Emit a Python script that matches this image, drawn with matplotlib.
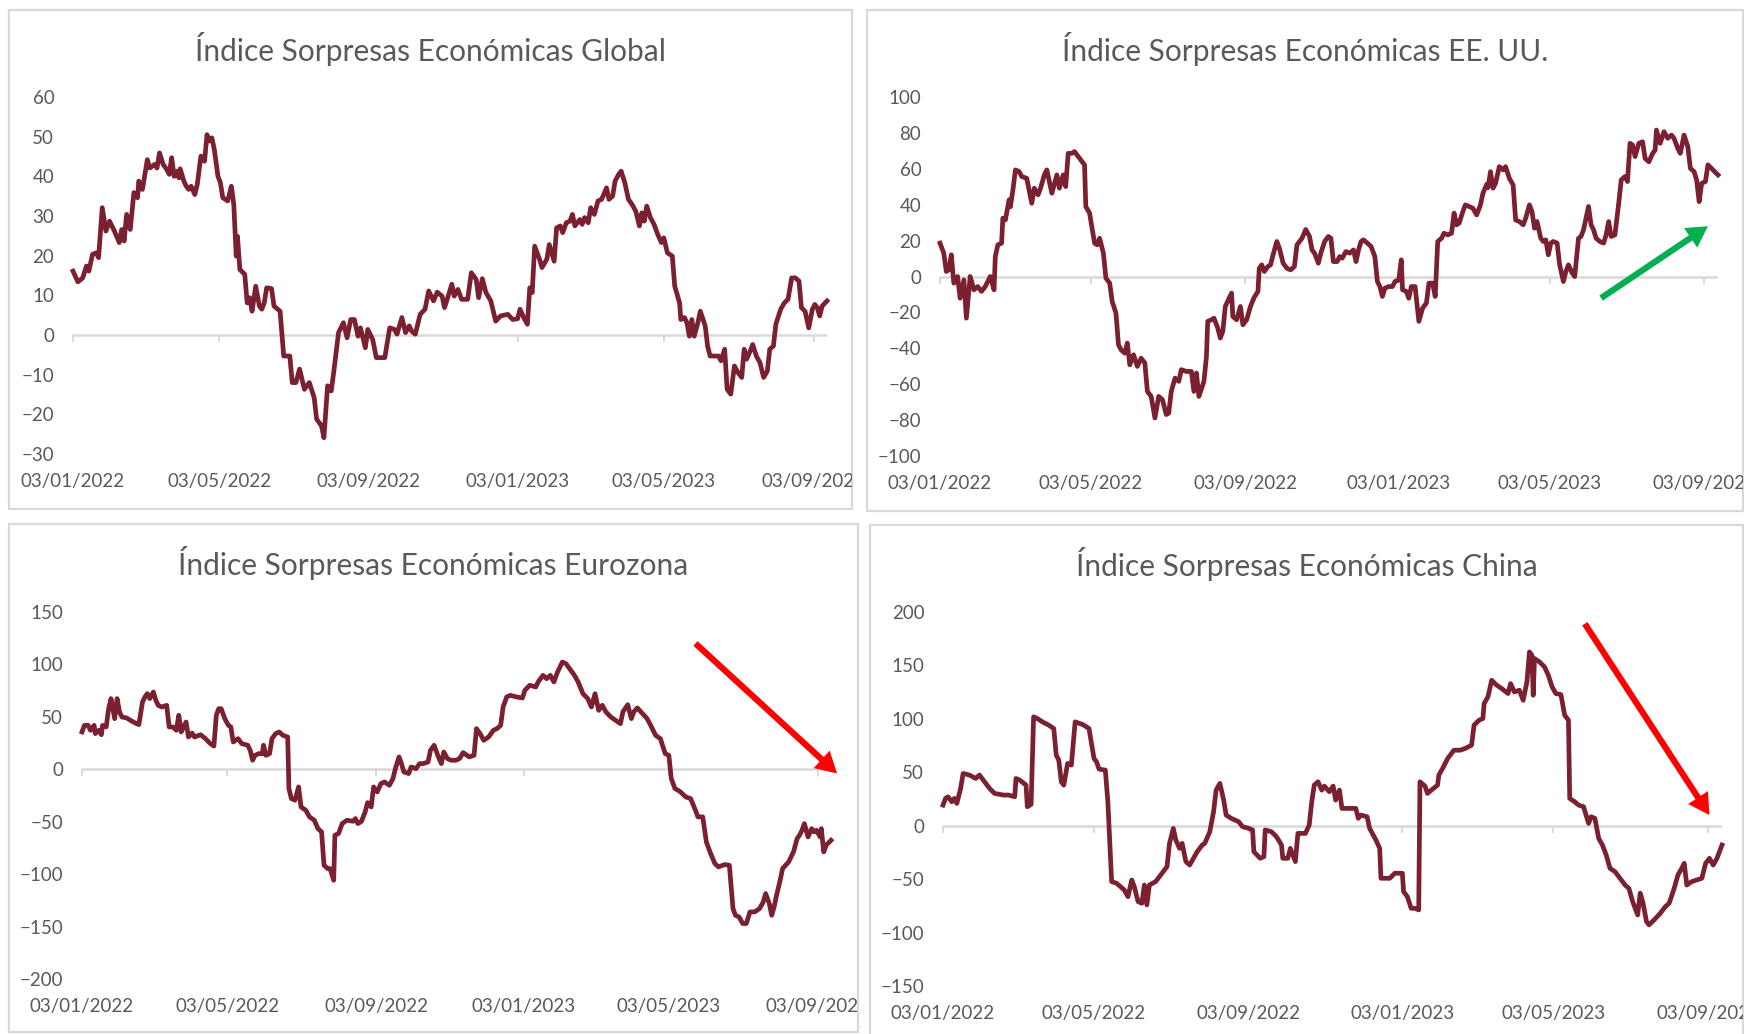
import numpy as np
import pandas as pd
import matplotlib
matplotlib.use("Agg")
import matplotlib.pyplot as plt
import matplotlib.dates as mdates
from matplotlib.patches import Rectangle
from matplotlib.transforms import Bbox, TransformedBbox

plt.rcParams["font.family"] = ["Lato", "DejaVu Sans"]

# ---------------------------------------------------------------- data
START = pd.Timestamp("2022-01-03")   # day 0 of every series

tick_dates = ["2022-01-03", "2022-05-03", "2022-09-03",
              "2023-01-03", "2023-05-03", "2023-09-03"]

titles = ["Índice Sorpresas Económicas Global",
          "Índice Sorpresas Económicas EE. UU.",
          "Índice Sorpresas Económicas Eurozona",
          "Índice Sorpresas Económicas China"]

# Global: days after START, index value
global_day = [0, 4, 8, 11, 13, 16, 19, 21, 24, 27, 30, 34, 38, 40, 42, 44, 47, 50, 53, 54,
              57, 61, 63, 67, 69, 71, 74, 77, 79, 81, 83, 85, 87, 88, 91, 93, 95, 97, 100, 102,
              105, 108, 110, 112, 114, 116, 119, 121, 123, 127, 130, 132, 134, 135, 137, 141, 143, 145, 147, 150,
              153, 155, 157, 159, 163, 165, 170, 173, 178, 180, 183, 186, 190, 194, 198, 200, 204, 206, 209, 212,
              214, 218, 222, 225, 228, 231, 234, 236, 240, 242, 246, 249, 256, 260, 264, 266, 270, 273, 276, 278,
              281, 285, 289, 292, 296, 299, 303, 305, 308, 311, 313, 316, 319, 324, 327, 331, 333, 336, 339, 343,
              347, 351, 357, 361, 365, 367, 370, 373, 375, 377, 379, 383, 385, 389, 391, 395, 397, 400, 402, 405,
              408, 410, 412, 416, 418, 420, 423, 425, 428, 431, 434, 438, 440, 443, 445, 448, 450, 453, 456, 459,
              462, 465, 467, 469, 471, 474, 477, 480, 483, 485, 488, 492, 494, 498, 499, 502, 504, 506, 508, 510,
              513, 515, 519, 521, 523, 530, 532, 535, 537, 540, 543, 546, 549, 551, 553, 556, 558, 561, 564, 567,
              570, 572, 575, 577, 581, 584, 587, 590, 593, 596, 598, 601, 604, 607, 609, 611, 613, 615, 619]
global_val = [16.1, 13.4, 14.4, 17.4, 16.1, 20.3, 20.7, 19.5, 32.1, 26.2, 28.7, 26.2, 23.3, 26.6, 23.7, 30.4, 26.6, 35.9, 34.6, 38.8,
              36.7, 44.2, 42.1, 43.0, 42.1, 45.9, 43.0, 41.7, 40.5, 44.7, 40.0, 41.3, 39.6, 41.9, 38.8, 37.5, 36.7, 37.5, 35.4, 37.9,
              45.1, 43.8, 50.5, 48.9, 49.7, 46.8, 40.0, 38.4, 34.6, 33.8, 37.5, 32.9, 19.9, 24.9, 16.5, 15.3, 8.1, 9.4, 6.0, 12.3,
              7.3, 6.5, 8.1, 11.9, 11.7, 7.3, 6.0, -5.3, -5.3, -12.0, -12.0, -8.6, -13.7, -12.0, -15.8, -21.2, -22.9, -25.9, -12.8, -14.1,
              -9.5, 0.6, 3.1, -0.7, 3.9, 3.9, -0.3, 1.8, -3.2, 1.4, -1.1, -5.7, -5.7, 1.8, 1.4, 0.2, 4.4, 0.6, 2.3, 1.0,
              0.2, 5.2, 6.5, 11.1, 8.6, 10.8, 9.8, 6.9, 9.8, 12.8, 9.8, 11.5, 9.0, 9.0, 15.7, 14.0, 9.4, 14.2, 10.7, 8.6,
              3.5, 4.8, 5.2, 3.9, 4.1, 6.5, 4.4, 2.7, 11.9, 10.7, 22.4, 19.1, 17.0, 19.1, 22.8, 18.6, 27.0, 27.5, 25.8, 28.3,
              28.7, 30.4, 27.5, 29.1, 27.9, 29.6, 28.3, 32.1, 30.4, 33.8, 34.2, 37.1, 34.2, 35.0, 38.8, 40.5, 41.3, 38.4, 34.2, 32.9,
              31.2, 27.5, 30.8, 28.7, 32.5, 29.6, 27.9, 25.4, 23.3, 24.5, 20.7, 19.9, 12.3, 8.1, 3.9, 4.4, 3.1, -0.3, 3.9, -0.3,
              3.1, 6.0, 2.3, -2.8, -5.3, -5.3, -6.5, -3.6, -13.7, -14.9, -7.8, -9.5, -10.7, -3.6, -6.1, -4.0, -2.4, -5.3, -7.0, -10.7,
              -9.1, -3.6, -2.8, 2.7, 6.5, 8.1, 9.0, 14.4, 14.4, 13.6, 6.9, 6.0, 1.8, 6.5, 7.7, 6.9, 4.8, 7.3, 8.6]

# EE. UU.
us_day = [0, 3, 5, 7, 9, 11, 14, 16, 19, 21, 24, 27, 30, 33, 36, 40, 43, 44, 46, 49,
          50, 52, 55, 56, 58, 60, 63, 65, 69, 73, 75, 78, 80, 83, 85, 89, 93, 95, 98, 100,
          102, 105, 107, 110, 112, 115, 116, 119, 121, 123, 125, 127, 130, 132, 135, 137, 140, 142, 144, 147,
          149, 151, 154, 157, 160, 163, 165, 168, 171, 174, 177, 180, 182, 184, 187, 190, 192, 196, 200, 202,
          204, 206, 210, 212, 213, 216, 218, 221, 223, 225, 227, 230, 232, 233, 236, 239, 241, 244, 247, 250,
          253, 254, 256, 258, 261, 263, 265, 268, 270, 273, 276, 279, 282, 284, 288, 291, 294, 296, 298, 301,
          303, 306, 309, 311, 313, 316, 318, 320, 323, 326, 329, 331, 333, 335, 337, 340, 343, 346, 348, 350,
          352, 354, 357, 360, 362, 365, 367, 368, 371, 373, 375, 378, 381, 384, 387, 389, 392, 394, 396, 399,
          401, 404, 407, 409, 411, 413, 416, 418, 421, 424, 427, 430, 432, 435, 436, 438, 440, 442, 445, 448,
          450, 453, 456, 458, 461, 464, 466, 469, 471, 473, 475, 478, 480, 482, 484, 486, 488, 491, 493, 496,
          498, 500, 503, 505, 508, 510, 512, 516, 518, 520, 522, 525, 528, 530, 532, 534, 537, 540, 542, 545,
          547, 549, 551, 553, 556, 559, 561, 564, 567, 569, 570, 573, 576, 579, 582, 584, 587, 589, 592, 595,
          597, 600, 602, 604, 606, 609, 611, 615, 619]
us_val = [18.6, 13.0, 2.8, 3.7, 12.1, -3.7, 0.0, -12.1, -1.9, -23.2, 0.0, -7.4, -5.6, -8.3, -5.6, 0.0, -7.4, 11.1, 17.6, 18.6,
          32.5, 31.5, 42.7, 38.8, 48.2, 59.4, 58.4, 55.7, 54.7, 40.8, 49.2, 45.5, 49.2, 56.6, 59.4, 46.4, 56.6, 49.2, 56.6, 50.1,
          68.6, 68.6, 69.6, 66.8, 64.9, 62.2, 39.0, 35.3, 26.9, 18.6, 17.6, 21.3, 13.0, -0.9, -3.7, -13.9, -20.4, -38.0, -40.8, -42.7,
          -37.1, -49.2, -43.6, -50.1, -45.5, -48.2, -64.0, -66.8, -78.8, -66.8, -68.6, -76.9, -76.1, -64.0, -56.6, -58.4, -51.9, -52.9, -52.9, -64.0,
          -53.8, -66.8, -58.4, -44.5, -25.0, -24.1, -23.2, -28.8, -34.3, -30.6, -16.7, -12.1, -9.3, -22.3, -24.1, -16.7, -26.9, -24.1, -16.7, -11.6,
          -8.3, 4.6, 6.5, 2.8, 5.6, 6.5, 12.1, 19.5, 15.8, 7.4, 4.6, 3.7, 5.6, 17.6, 21.3, 26.2, 22.3, 14.8, 13.0, 7.4,
          13.0, 19.5, 22.3, 21.3, 8.3, 8.3, 11.1, 10.2, 13.9, 13.0, 14.8, 8.3, 14.8, 19.5, 20.4, 18.6, 16.7, 11.1, -2.8, -5.6,
          -11.1, -6.5, -5.6, -5.6, -2.8, -1.9, 9.3, -7.4, -8.3, -12.1, -5.6, -5.6, -25.0, -17.6, -14.8, -3.7, -3.7, -11.1, 19.5, 21.3,
          24.1, 23.2, 24.1, 35.3, 28.8, 29.7, 36.2, 39.9, 39.0, 38.0, 34.3, 39.9, 46.4, 51.4, 49.5, 58.4, 49.2, 51.9, 61.2, 59.4,
          61.2, 54.7, 51.0, 31.5, 30.6, 28.8, 32.5, 39.9, 36.2, 26.9, 30.6, 21.3, 19.5, 20.4, 12.1, 18.6, 19.5, 18.6, 6.5, -2.8,
          2.8, 6.5, 1.9, 0.0, 21.3, 22.3, 26.0, 39.0, 28.8, 26.0, 21.3, 19.5, 18.6, 23.2, 30.6, 22.3, 23.2, 40.8, 53.8, 55.7,
          52.9, 74.2, 73.3, 66.8, 74.2, 75.1, 65.8, 63.9, 68.6, 70.4, 81.6, 74.2, 80.7, 77.0, 78.8, 77.0, 71.4, 68.6, 78.8, 72.3,
          60.3, 58.4, 53.8, 41.7, 51.9, 52.9, 62.2, 59.4, 56.6]

# Eurozona
euro_day = [0, 2, 5, 7, 10, 11, 14, 16, 17, 20, 22, 24, 27, 29, 31, 33, 37, 40, 45, 47,
            50, 52, 54, 56, 59, 61, 63, 66, 70, 72, 75, 78, 80, 82, 86, 88, 91, 93, 98, 102,
            106, 109, 111, 113, 115, 118, 121, 123, 125, 129, 132, 137, 139, 141, 143, 146, 149, 150, 152, 155,
            157, 160, 163, 166, 170, 171, 173, 176, 179, 181, 185, 188, 192, 195, 198, 200, 203, 205, 208, 209,
            212, 215, 219, 224, 226, 228, 231, 234, 236, 239, 241, 244, 247, 250, 254, 257, 259, 262, 264, 266,
            270, 272, 276, 279, 282, 286, 288, 291, 294, 297, 299, 302, 305, 309, 312, 315, 320, 324, 326, 329,
            332, 336, 340, 343, 346, 348, 351, 354, 359, 364, 366, 370, 375, 377, 381, 384, 387, 390, 393, 397,
            400, 404, 407, 410, 414, 418, 421, 424, 427, 430, 433, 437, 441, 445, 447, 451, 454, 456, 459, 462,
            467, 470, 474, 478, 482, 485, 487, 490, 494, 499, 503, 507, 509, 513, 516, 519, 523, 526, 531, 535,
            538, 540, 543, 546, 549, 552, 556, 560, 563, 565, 568, 570, 572, 574, 577, 579, 584, 588, 591, 593,
            595, 597, 600, 603, 605, 607, 610, 611, 613, 615, 619]
euro_val = [35.6, 41.9, 41.9, 37.2, 41.9, 34.0, 37.2, 33.0, 41.9, 40.4, 57.8, 67.4, 48.3, 67.4, 54.7, 49.9, 48.9, 46.7, 43.5, 42.6,
            64.2, 69.0, 72.1, 67.4, 73.7, 65.8, 61.0, 59.4, 61.0, 40.4, 40.4, 37.2, 51.5, 35.6, 45.1, 30.8, 34.6, 30.8, 33.0, 29.2,
            24.5, 22.2, 51.5, 57.8, 57.8, 48.3, 41.9, 40.4, 26.1, 29.2, 24.5, 22.9, 18.1, 8.6, 13.3, 14.9, 14.9, 22.9, 13.3, 14.9,
            29.2, 34.0, 35.6, 32.4, 30.8, -18.4, -27.9, -29.6, -16.8, -35.9, -39.1, -45.4, -48.6, -56.6, -59.7, -91.5, -94.7, -94.7, -105.8, -62.9,
            -61.3, -51.8, -48.6, -49.6, -47.0, -51.8, -49.6, -40.7, -31.8, -35.9, -16.8, -21.6, -13.7, -12.1, -15.3, -8.9, 0.6, 11.8, 5.4, -2.5,
            -4.1, 2.2, 0.6, 5.4, 5.4, 7.0, 18.1, 22.9, 13.3, 5.4, 16.5, 10.2, 8.6, 8.6, 10.2, 15.9, 11.8, 13.3, 38.8, 34.0,
            27.6, 30.8, 37.2, 38.8, 41.9, 59.4, 69.0, 70.5, 69.0, 68.0, 75.3, 80.1, 78.5, 83.3, 89.6, 86.4, 89.6, 83.3, 92.8, 102.3,
            100.7, 94.4, 89.6, 83.3, 72.1, 67.4, 59.4, 72.1, 56.2, 61.0, 54.7, 49.9, 46.7, 43.5, 54.7, 61.6, 48.3, 54.7, 58.5, 54.7,
            48.3, 41.9, 32.4, 29.2, 14.9, 13.3, -8.9, -18.4, -21.0, -26.4, -28.0, -39.1, -45.4, -45.4, -69.3, -78.8, -89.9, -93.1, -90.9, -91.5,
            -132.8, -139.2, -140.8, -147.1, -147.1, -136.0, -136.0, -132.8, -126.5, -118.5, -128.1, -139.2, -131.2, -120.1, -105.8, -94.7, -88.3, -78.8, -66.1, -62.9,
            -58.2, -51.8, -64.5, -56.6, -59.7, -58.2, -64.5, -56.6, -78.8, -72.4, -67.7]

# China
china_day = [0, 2, 4, 7, 9, 11, 14, 16, 21, 26, 29, 32, 37, 41, 48, 52, 57, 58, 61, 66,
             67, 70, 72, 75, 79, 84, 88, 90, 92, 94, 96, 99, 102, 105, 111, 116, 120, 122, 124, 129,
             131, 134, 138, 141, 144, 147, 150, 152, 155, 158, 160, 162, 164, 169, 173, 178, 180, 183, 185, 188,
             190, 193, 196, 199, 202, 206, 208, 212, 215, 217, 220, 223, 225, 229, 235, 238, 243, 246, 247, 252,
             255, 256, 261, 265, 269, 270, 274, 276, 280, 282, 288, 291, 293, 295, 298, 301, 303, 307, 310, 312,
             315, 317, 320, 328, 330, 332, 337, 339, 344, 347, 348, 355, 359, 365, 366, 369, 372, 375, 378, 379,
             383, 385, 388, 393, 394, 397, 401, 404, 406, 411, 415, 420, 422, 426, 429, 430, 433, 436, 440, 444,
             449, 451, 454, 458, 461, 464, 466, 468, 469, 470, 474, 478, 481, 484, 487, 491, 494, 497, 498, 502,
             505, 509, 513, 515, 518, 521, 524, 527, 530, 534, 539, 542, 545, 548, 552, 554, 556, 559, 561, 565,
             570, 574, 577, 581, 584, 587, 589, 591, 595, 599, 603, 606, 609, 612, 615, 619]
china_val = [19.3, 25.5, 27.1, 22.4, 25.5, 20.9, 34.9, 48.9, 47.4, 44.2, 47.4, 42.7, 34.9, 30.2, 28.7, 28.7, 27.1, 44.2, 42.7, 38.0,
             17.8, 19.9, 101.9, 100.3, 97.2, 94.1, 91.0, 66.0, 61.4, 41.1, 38.0, 58.3, 56.7, 97.2, 94.7, 91.0, 62.9, 59.8, 53.0, 52.0,
             22.4, -52.3, -53.9, -57.0, -60.1, -66.4, -50.8, -57.0, -71.0, -72.6, -55.5, -74.1, -55.5, -52.3, -46.1, -38.3, -16.5, -2.5, -13.4, -21.2,
             -16.5, -33.6, -36.8, -30.5, -24.3, -18.1, -16.5, -5.6, 13.1, 33.3, 39.6, 24.0, 10.0, 6.9, 3.7, -0.9, -2.5, -4.0, -24.3, -30.5,
             -29.0, -4.0, -5.6, -10.3, -18.1, -30.5, -30.5, -21.2, -33.6, -7.2, -7.2, 0.6, 22.4, 38.0, 41.1, 33.3, 37.1, 31.8, 37.1, 24.0,
             33.3, 16.2, 16.2, 16.2, 6.9, 10.0, 8.4, -2.5, -13.4, -21.2, -49.2, -49.2, -44.5, -44.5, -61.7, -66.4, -77.3, -77.3, -78.8, 41.1,
             37.1, 30.2, 33.3, 38.0, 47.4, 53.6, 62.9, 67.6, 70.7, 70.7, 72.3, 75.4, 94.1, 98.8, 100.3, 114.3, 120.6, 136.1, 131.5, 128.3,
             123.7, 133.0, 125.2, 126.8, 117.4, 134.6, 162.6, 159.5, 122.1, 156.4, 153.3, 148.6, 140.8, 129.9, 123.7, 122.7, 103.4, 98.8, 25.5, 22.4,
             19.3, 17.8, 2.2, 8.4, 6.9, -11.8, -18.1, -27.4, -39.9, -43.0, -50.8, -55.5, -58.6, -71.0, -83.5, -63.2, -71.0, -89.7, -92.8, -88.2,
             -81.9, -75.7, -72.6, -58.6, -46.1, -39.9, -35.2, -55.5, -52.3, -50.8, -49.2, -35.2, -30.5, -36.8, -30.5, -18.1]

# Trend arrows: (day, value) of tail and head
us_arrow = [(526, -12.0), (611, 28.0)]
euro_arrow = [(507, 120.0), (624, -4.0)]
china_arrow = [(510, 189.0), (609, 10.0)]

# ---------------------------------------------------------------- styling
W, H = 1744, 1034
LINE = "#7B2030"
TEXT = "#595959"
GRID = "#D9D9D9"

fig = plt.figure(figsize=(W / 100, H / 100), dpi=100)


def frac_box(l, t, r, b):
    """Pixel box (top-left origin) -> figure fraction [x, y, w, h]."""
    return [l / W, 1 - b / H, (r - l) / W, (b - t) / H]


def to_dates(days):
    return START + pd.to_timedelta(np.asarray(days), unit="D")


panels = [
    dict(title=titles[0], day=global_day, val=global_val, ylim=(-30, 60), step=10,
         axes=(73, 97, 827, 454), frame=(9, 10, 852, 509), arrow=None, arrow_color=None),
    dict(title=titles[1], day=us_day, val=us_val, ylim=(-100, 100), step=20,
         axes=(940, 97, 1718, 456), frame=(867, 10, 1743, 511), arrow=us_arrow, arrow_color="#00B050"),
    dict(title=titles[2], day=euro_day, val=euro_val, ylim=(-200, 150), step=50,
         axes=(82, 612, 831, 979), frame=(9, 524, 858, 1032), arrow=euro_arrow, arrow_color="#FF0000"),
    dict(title=titles[3], day=china_day, val=china_val, ylim=(-150, 200), step=50,
         axes=(943, 612, 1722, 986), frame=(870, 525, 1743, 1040), arrow=china_arrow, arrow_color="#FF0000"),
]

ticks = pd.to_datetime(tick_dates)

for p in panels:
    fl, ft, fr, fb = p["frame"]
    fig.add_artist(Rectangle((fl / W, 1 - fb / H), (fr - fl) / W, (fb - ft) / H,
                             transform=fig.transFigure, fill=False,
                             edgecolor=GRID, linewidth=1.6, zorder=0))

    ax = fig.add_axes(frac_box(*p["axes"]))
    ax.patch.set_alpha(0)
    x = to_dates(p["day"])
    ax.set_xlim(x[0], x[-1])
    ax.set_ylim(*p["ylim"])

    ax.axhline(0, color=GRID, linewidth=1.8, zorder=1)
    ax.plot(ticks, np.zeros(len(ticks)), linestyle="none", marker=3,
            markersize=5, markeredgewidth=1.4, color=GRID, clip_on=False, zorder=1)
    ax.plot(x, p["val"], color=LINE, linewidth=3.4, solid_joinstyle="round",
            zorder=3, clip_on=False)

    for s in ax.spines.values():
        s.set_visible(False)
    lo, hi = p["ylim"]
    ax.set_yticks(np.arange(lo, hi + 1, p["step"]))
    ax.set_xticks(ticks)
    ax.xaxis.set_major_formatter(mdates.DateFormatter("%d/%m/%Y"))
    ax.tick_params(axis="y", length=0, pad=13.5, labelsize=13.5, labelcolor=TEXT)
    ax.tick_params(axis="x", length=0, pad=14.0, labelsize=13.5, labelcolor=TEXT)

    # date labels are trimmed by the panel frame
    clip = TransformedBbox(Bbox.from_extents(fl / W, 1 - fb / H, fr / W, 1 - ft / H),
                           fig.transFigure)
    for lab in ax.get_xticklabels():
        lab.set_clip_box(clip)
        lab.set_clip_on(True)

    fig.text(((fl + fr) / 2) / W, 1 - (ft + 39) / H, p["title"], ha="center",
             va="center", fontsize=21.5, color=TEXT)

    if p["arrow"] is not None:
        (d0, v0), (d1, v1) = p["arrow"]
        x0 = mdates.date2num(START + pd.Timedelta(days=d0))
        x1 = mdates.date2num(START + pd.Timedelta(days=d1))
        ax.annotate("", xy=(x1, v1), xytext=(x0, v0), xycoords="data",
                    annotation_clip=False,
                    arrowprops=dict(facecolor=p["arrow_color"], edgecolor="none",
                                    width=4.5, headwidth=17, headlength=15,
                                    shrink=0.0), zorder=5)

fig.savefig("out.png", dpi=100)
